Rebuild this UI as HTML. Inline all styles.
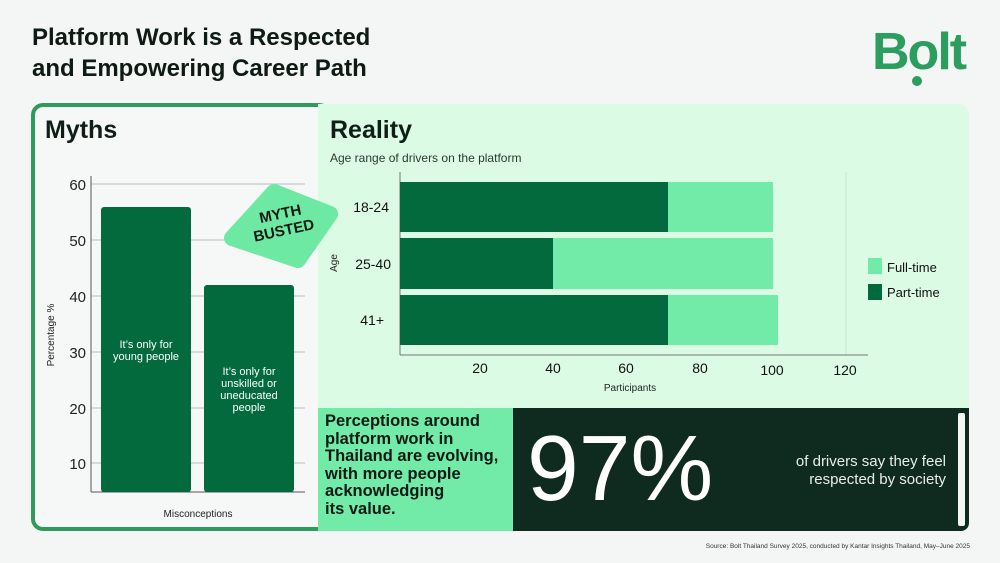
<!DOCTYPE html>
<html><head><meta charset="utf-8"><style>
*{margin:0;padding:0;box-sizing:border-box}
body{width:1000px;height:563px;background:#f4f6f5;font-family:"Liberation Sans",sans-serif;position:relative;overflow:hidden;color:#0f1f17}
.a{position:absolute}
</style></head><body>
<div class="a" style="left:32px;top:22px;font-size:24px;font-weight:bold;line-height:31px;color:#0e1a14">Platform Work is a Respected<br>and Empowering Career Path</div>
<div class="a" style="left:872px;top:24px;font-size:52px;font-weight:bold;color:#2a9d5f;letter-spacing:-2px;line-height:56px">Bolt</div>
<div class="a" style="left:912px;top:76px;width:10px;height:10px;border-radius:50%;background:#2a9d5f"></div>

<div class="a" style="left:31px;top:103px;width:300px;height:428px;border:4px solid #2e9a5c;border-radius:12px;background:#f6f8f7"></div>
<div class="a" style="left:318px;top:104px;width:651px;height:304px;background:#dcfbe4;border-radius:0 10px 0 0"></div>
<div class="a" style="left:45px;top:116px;font-size:25px;font-weight:bold">Myths</div>
<div class="a" style="left:330px;top:116px;font-size:25px;font-weight:bold">Reality</div>
<div class="a" style="left:330px;top:151px;font-size:12px;color:#2a3a32">Age range of drivers on the platform</div>

<svg class="a" style="left:0;top:0" width="1000" height="563">
<g stroke="#bbb" stroke-width="1">
<line x1="91" y1="184" x2="305" y2="184"/><line x1="91" y1="240" x2="305" y2="240"/><line x1="91" y1="296" x2="305" y2="296"/><line x1="91" y1="352" x2="305" y2="352"/><line x1="91" y1="408" x2="305" y2="408"/><line x1="91" y1="463" x2="305" y2="463"/>
</g>
<line x1="91" y1="176" x2="91" y2="492" stroke="#555"/><line x1="91" y1="492" x2="305" y2="492" stroke="#555"/>
<g font-size="15" fill="#222" text-anchor="end"><text x="86" y="190">60</text><text x="86" y="246">50</text><text x="86" y="302">40</text><text x="86" y="358">30</text><text x="86" y="414">20</text><text x="86" y="469">10</text></g>
<text x="54" y="335" font-size="10" fill="#222" transform="rotate(-90 54 335)" text-anchor="middle">Percentage %</text>
<rect x="101" y="207" width="90" height="285" rx="3" fill="#036a3e"/>
<rect x="204" y="285" width="90" height="207" rx="3" fill="#036a3e"/>
<g fill="#fff" font-size="11" text-anchor="middle"><text x="146" y="348">It’s only for</text><text x="146" y="360">young people</text>
<text x="249" y="375">It’s only for</text><text x="249" y="387">unskilled or</text><text x="249" y="399">uneducated</text><text x="249" y="411">people</text></g>
<text x="198" y="517" font-size="10" fill="#222" text-anchor="middle">Misconceptions</text>
<polygon points="274,192 330,214 298,260 232,238" fill="#6ee9a4" stroke="#6ee9a4" stroke-width="16" stroke-linejoin="round"/>
<g font-size="15" font-weight="bold" fill="#0e1a14" text-anchor="middle" transform="rotate(-12 280 222)"><text x="282" y="219">MYTH</text><text x="282" y="236">BUSTED</text></g>

<line x1="846" y1="172" x2="846" y2="355" stroke="#c9e5d0"/>
<line x1="400" y1="172" x2="400" y2="355" stroke="#777"/><line x1="400" y1="355" x2="868" y2="355" stroke="#777"/>
<rect x="400" y="182" width="268" height="50" fill="#036a3e"/><rect x="668" y="182" width="105" height="50" fill="#72eaa8"/>
<rect x="400" y="238" width="153" height="51" fill="#036a3e"/><rect x="553" y="238" width="220" height="51" fill="#72eaa8"/>
<rect x="400" y="295" width="268" height="50" fill="#036a3e"/><rect x="668" y="295" width="110" height="50" fill="#72eaa8"/>
<g font-size="14" fill="#111" text-anchor="end"><text x="389" y="212">18-24</text><text x="391" y="269">25-40</text><text x="384" y="325">41+</text></g>
<text x="337" y="263" font-size="10" fill="#222" transform="rotate(-90 337 263)" text-anchor="middle">Age</text>
<g font-size="14" fill="#111" text-anchor="middle"><text x="480" y="373">20</text><text x="553" y="373">40</text><text x="626" y="373">60</text><text x="700" y="373">80</text><text x="772" y="375">100</text><text x="845" y="375">120</text></g>
<text x="630" y="391" font-size="10" fill="#222" text-anchor="middle">Participants</text>
<rect x="868" y="258" width="14" height="16" fill="#72eaa8"/><rect x="868" y="284" width="14" height="16" fill="#036a3e"/>
<g font-size="13" fill="#111"><text x="887" y="272">Full-time</text><text x="887" y="297">Part-time</text></g>
</svg>

<div class="a" style="left:318px;top:408px;width:195px;height:123px;background:#72eaa8"></div>
<div class="a" style="left:325px;top:413px;font-size:16.5px;font-weight:bold;line-height:17.5px;color:#0e1a14">Perceptions around<br>platform work in<br>Thailand are evolving,<br>with more people<br>acknowledging<br>its value.</div>
<div class="a" style="left:513px;top:408px;width:456px;height:123px;background:#0f2a1e;border-radius:0 0 8px 0"></div>
<div class="a" style="left:958px;top:413px;width:7px;height:113px;background:#f4f6f5;border-radius:2px"></div>
<div class="a" style="left:527px;top:422px;font-size:93px;color:#fff;line-height:93px">97%</div>
<div class="a" style="left:740px;top:453px;width:206px;text-align:right;font-size:15px;line-height:18px;color:#e8efe9">of drivers say they feel<br>respected by society</div>
<div class="a" style="right:30px;top:543px;font-size:6.5px;color:#333">Source: Bolt Thailand Survey 2025, conducted by Kantar Insights Thailand, May–June 2025</div>
</body></html>
